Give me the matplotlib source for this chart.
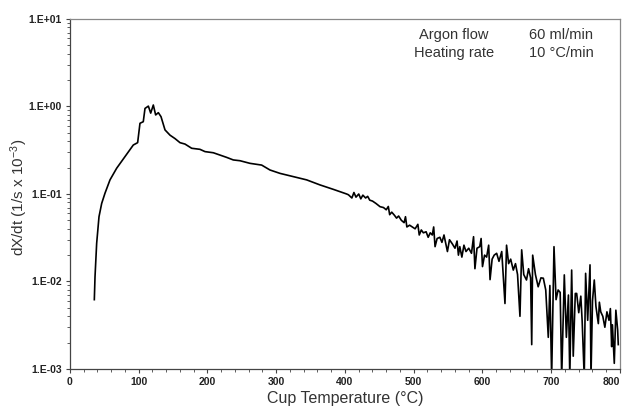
import matplotlib
matplotlib.use('Agg')
import matplotlib.pyplot as plt
from matplotlib.ticker import LogLocator, MultipleLocator, FixedLocator, NullFormatter

plt.rcParams['font.family'] = ['Liberation Sans', 'DejaVu Sans']
plt.rcParams['mathtext.fontset'] = 'custom'
plt.rcParams['mathtext.rm'] = 'Liberation Sans'
plt.rcParams['mathtext.it'] = 'Liberation Sans:italic'

# Cup temperature (°C) and dX/dt (1/s x 10^-3)
temp = [35.4, 36.4, 38.8, 42.2, 46.1, 50.9, 58.2, 67.9, 80, 92.1, 98.4, 101.8,
        106.6, 109.1, 114, 117.4, 121.2, 124.6, 128.5, 132.4, 138.2, 145.5,
        152.7, 160, 167.3, 177, 189, 196.4, 208.5, 227.9, 237.5, 247.3, 261.8,
        278.8, 290.9, 305.5, 324.8, 344.2, 363.6, 383, 402.4,
        405, 410, 413, 416, 420, 423, 426, 430, 433, 436,
        440, 445, 451, 456, 460, 463, 465, 468, 472, 475, 478, 482, 486, 488,
        490, 494, 498, 502, 506, 508, 511, 514, 518, 521, 524, 527, 529, 531,
        534, 538, 541, 544, 546, 549, 552, 556, 560, 563, 565, 567, 570, 573,
        576, 580, 584, 587, 589, 592, 596, 598, 600, 603, 606, 609, 611, 614,
        617, 620.6, 624, 628, 632.7, 635, 638, 641, 644.8, 648, 651, 654.5,
        657, 660, 664, 667, 670, 671.6, 673, 677, 681, 685, 688.5, 692, 695.7,
        698, 700.6, 704, 707, 710, 713, 715.2, 719, 722, 725, 727, 729.7, 732,
        735, 737, 740, 743, 745, 748, 750, 753, 756.4, 757.8, 760, 762.6, 765,
        768.5, 770, 772, 775, 778, 781, 784, 786, 787.9, 789, 791.7, 794, 796.6,
        797.5]
rate = [0.0062, 0.0113, 0.0273, 0.055, 0.078, 0.102, 0.145, 0.197, 0.267,
        0.363, 0.386, 0.643, 0.67, 0.95, 1.01, 0.84, 1.04, 0.80, 0.85, 0.765,
        0.54, 0.47, 0.43, 0.386, 0.372, 0.333, 0.324, 0.305, 0.296, 0.262,
        0.245, 0.24, 0.224, 0.214, 0.188, 0.172, 0.158, 0.145, 0.127, 0.113,
        0.1,
        0.098, 0.09, 0.104, 0.092, 0.1, 0.088, 0.097, 0.09, 0.094, 0.085,
        0.083, 0.078, 0.0716, 0.070, 0.066, 0.072, 0.058, 0.062, 0.057, 0.053,
        0.056, 0.05, 0.047, 0.055, 0.042, 0.044, 0.042, 0.04, 0.045, 0.034,
        0.0388, 0.036, 0.037, 0.032, 0.036, 0.034, 0.042, 0.025, 0.031, 0.032,
        0.028, 0.034, 0.0285, 0.022, 0.03, 0.027, 0.024, 0.029, 0.02, 0.025,
        0.019, 0.026, 0.022, 0.024, 0.021, 0.0325, 0.014, 0.024, 0.025, 0.031,
        0.0148, 0.02, 0.019, 0.026, 0.0105, 0.018, 0.02, 0.021, 0.017, 0.022,
        0.0056, 0.026, 0.016, 0.018, 0.0135, 0.016, 0.012, 0.004, 0.023, 0.012,
        0.0104, 0.014, 0.011, 0.0019, 0.020, 0.012, 0.0087, 0.011, 0.0109,
        0.008, 0.0023, 0.009, 0.0008, 0.025, 0.0062, 0.008, 0.0075, 0.0008,
        0.0119, 0.0023, 0.007, 0.0008, 0.0135, 0.0014, 0.0073, 0.0073, 0.0044,
        0.0068, 0.0035, 0.0008, 0.0124, 0.0036, 0.0155, 0.0008, 0.006, 0.0104,
        0.0052, 0.0033, 0.0058, 0.0045, 0.004, 0.003, 0.0045, 0.0036, 0.0049,
        0.0018, 0.0032, 0.00116, 0.0047, 0.0028, 0.0019]

ytick_vals = [1e-3, 1e-2, 1e-1, 1e0, 1e1]
ytick_labels = ['1.E-03', '1.E-02', '1.E-01', '1.E+00', '1.E+01']

fig = plt.figure(figsize=(6.26, 4.12), dpi=100)
ax = fig.add_axes([0.1118, 0.1044, 0.8786, 0.8495])

ax.plot(temp, rate, color='black', linewidth=1.2)

ax.set_yscale('log')
ax.set_xlim(0, 800)
ax.set_ylim(1e-3, 1e1)

ax.xaxis.set_major_locator(MultipleLocator(100))
ax.xaxis.set_minor_locator(MultipleLocator(20))
ax.yaxis.set_major_locator(FixedLocator(ytick_vals))
ax.set_yticklabels(ytick_labels)
ax.yaxis.set_minor_locator(LogLocator(base=10, subs=range(2, 10), numticks=20))
ax.yaxis.set_minor_formatter(NullFormatter())

ax.tick_params(axis='both', which='major', direction='out', length=3,
               width=0.8, color='#444444', labelsize=7.5, pad=3)
ax.tick_params(axis='both', which='minor', direction='out', length=2,
               width=0.6, color='#444444')

for side in ['left', 'bottom']:
    ax.spines[side].set_color('#444444')
    ax.spines[side].set_linewidth(0.9)
for side in ['top', 'right']:
    ax.spines[side].set_color('#888888')
    ax.spines[side].set_linewidth(0.9)

ax.set_xlabel('Cup Temperature (°C)', fontsize=11.5, color='#333333', labelpad=3)
ax.set_ylabel(r'dX/dt (1/s x 10$^{-3}$)', fontsize=11, color='#333333')
ax.yaxis.set_label_coords(-0.073, 0.49)

ax.text(0.698, 0.954, 'Argon flow', transform=ax.transAxes,
        ha='center', va='center', fontsize=10.5, color='#333333')
ax.text(0.698, 0.903, 'Heating rate', transform=ax.transAxes,
        ha='center', va='center', fontsize=10.5, color='#333333')
ax.text(0.893, 0.954, '60 ml/min', transform=ax.transAxes,
        ha='center', va='center', fontsize=10.5, color='#333333')
ax.text(0.893, 0.903, '10 °C/min', transform=ax.transAxes,
        ha='center', va='center', fontsize=10.5, color='#333333')

fig.canvas.draw()
for tick in ax.xaxis.get_major_ticks() + ax.yaxis.get_major_ticks():
    tick.label1.set_fontweight('bold')
    tick.label1.set_color('#222222')
# the 800 label sits on the right edge, keep it inside the figure
for tick in ax.xaxis.get_major_ticks():
    if abs(tick.get_loc() - 800) < 1e-6:
        tick.label1.set_horizontalalignment('right')
        tick.label1.set_x(tick.label1.get_position()[0] + 6)

fig.savefig('out.png', dpi=100)
